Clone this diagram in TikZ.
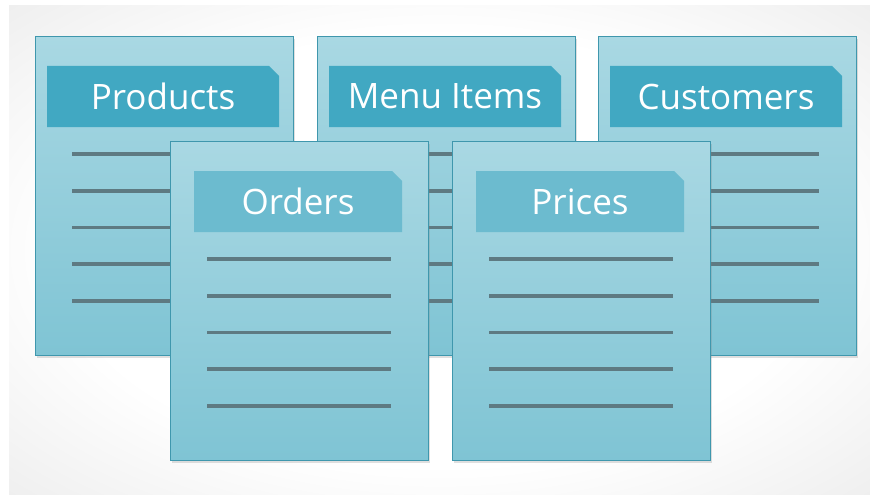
\documentclass[tikz,border=0pt]{standalone}
\usepackage{fontspec}
\setmainfont{Open Sans}
\usetikzlibrary{calc,shadows}
\definecolor{bggray}{HTML}{E0E0E0}
\definecolor{cardtop}{HTML}{A9D8E3}
\definecolor{cardmid}{HTML}{A4D5E1}
\definecolor{cardbot}{HTML}{7FC4D4}
\definecolor{cardedge}{HTML}{3F97AD}
\definecolor{backbar}{HTML}{41A8C2}
\definecolor{frontbar}{HTML}{6CBBCF}
\definecolor{rulegray}{HTML}{5E7A82}
\pgfdeclareradialshading{bgglow}{\pgfpoint{0bp}{0bp}}{color(0bp)=(white);
  color(22bp)=(white); color(48bp)=(bggray); color(50bp)=(bggray)}

\begin{document}
\begin{tikzpicture}[x=1pt,y=-1pt,
    card/.style={draw=cardedge, line width=1.4pt, top color=cardtop,
      middle color=cardmid, bottom color=cardbot, minimum width=258pt,
      minimum height=319pt, inner sep=0pt, anchor=north west,
      drop shadow={opacity=0.25, shadow xshift=1pt, shadow yshift=-2pt}},
    title/.style={text=white, font=\fontsize{35}{40}\selectfont, inner sep=0pt},
    rule/.style={draw=rulegray, line width=3.8pt}]
    \useasboundingbox (0,0) rectangle (870,495);
    %Backdrop
    \shade[shading=bgglow] (9,6) rectangle (870,495);

    %Cards, back row first
    \foreach \nm/\px/\py/\txt/\bw/\bx/\bc in {prod/35/36/Products/232/12/backbar,
        menu/317/36/Menu Items/232/12/backbar, cust/598/36/Customers/232/12/backbar,
        ord/170/141/Orders/208/24/frontbar, pri/452/141/Prices/208/24/frontbar}{
      \node[card] (\nm) at (\px,\py) {};
      \fill[\bc] ($(\nm.north west)+(\bx,30)$) -- ++(\bw-10,0) -- ++(10,10)
        -- ++(0,51) -- ++(-\bw,0) -- cycle;
      \node[title] (\nm-t) at ($(\nm.north west)+(\bx+\bw/2,60.5)$) {\txt};
      \foreach \i in {0,...,4}
        \draw[rule] ($(\nm.north west)+(37,118+36.75*\i)$) -- ++(184,0);
    }
\end{tikzpicture}
\end{document}
